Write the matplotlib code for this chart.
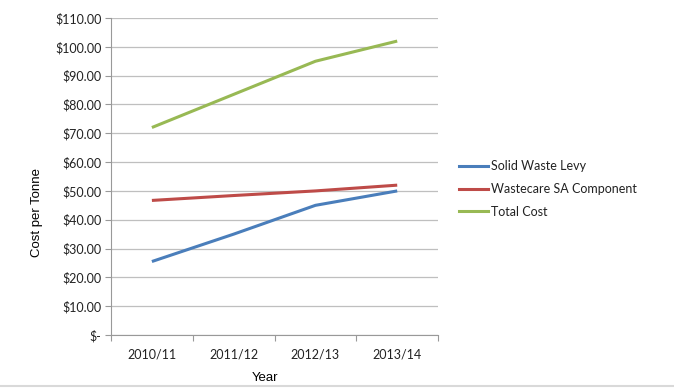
import matplotlib.pyplot as plt
from matplotlib.lines import Line2D
import numpy as np

years = ["2010/11", "2011/12", "2012/13", "2013/14"]
solid_waste_levy = [25.5, 35.0, 45.0, 50.0]
wastecare_sa = [46.7, 48.4, 50.0, 52.0]
total_cost = [72.0, 83.5, 95.0, 102.0]
y_ticks = np.arange(0, 111, 10)

series_names = ["Solid Waste Levy", "Wastecare SA Component", "Total Cost"]
colors = ["#4a7ebb", "#be4b48", "#98b954"]

tick_font = "Lato"
title_font = "Liberation Sans"

fig = plt.figure(figsize=(6.74, 3.89), dpi=100)
ax = fig.add_axes([0.1647, 0.1388, 0.4853, 0.8149])

x = np.arange(len(years))
for vals, c, name in zip([solid_waste_levy, wastecare_sa, total_cost], colors, series_names):
    ax.plot(x, vals, color=c, lw=2.2, label=name, solid_capstyle="butt")

ax.set_xlim(-0.5, len(years) - 0.5)
ax.set_ylim(0, 110)
ax.set_yticks(y_ticks)
ax.set_yticklabels(["$-" if v == 0 else f"${v:.2f}" for v in y_ticks],
                   fontfamily=tick_font, fontsize=9, color="#222222")
ax.yaxis.grid(True, color="#bfbfbf", lw=0.9)
ax.set_axisbelow(True)

# category labels centred, tick marks on boundaries
ax.set_xticks(x)
ax.set_xticklabels(years, fontfamily=tick_font, fontsize=9, color="#222222")
ax.set_xticks(np.arange(-0.5, len(years)), minor=True)
ax.tick_params(axis="x", which="major", length=0, pad=10)
ax.tick_params(axis="x", which="minor", length=4, color="#999999", width=0.8)
ax.tick_params(axis="y", length=4, color="#999999", width=0.8, pad=3)

for s in ["top", "right"]:
    ax.spines[s].set_visible(False)
for s in ["left", "bottom"]:
    ax.spines[s].set_color("#999999")
    ax.spines[s].set_linewidth(0.8)

fig.text(0.055, 0.455, "Cost per Tonne", rotation=90, ha="center", va="center",
         fontfamily=title_font, fontsize=9.5)
fig.text(0.393, 0.028, "Year", ha="center", va="center",
         fontfamily=title_font, fontsize=9.5)

handles = [Line2D([], [], color=c, lw=2.2) for c in colors]
leg = fig.legend(handles, series_names, loc="center left", bbox_to_anchor=(0.665, 0.514),
                 frameon=False, handlelength=2.3, handletextpad=0.25, labelspacing=0.85,
                 prop={"family": tick_font, "size": 9})
for t in leg.get_texts():
    t.set_color("#222222")

# light frame line at the bottom of the chart
fig.add_artist(Line2D([0, 1], [0.008, 0.008], color="#d9d9d9", lw=1.5, transform=fig.transFigure))

fig.savefig("out.png", dpi=100)
